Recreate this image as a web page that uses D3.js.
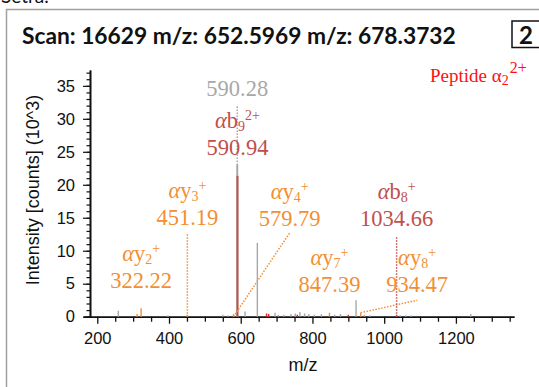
<!DOCTYPE html>
<html>
<head>
<meta charset="utf-8">
<script src="https://cdn.jsdelivr.net/npm/d3@7"></script>
<style>
  body { margin: 0; background: #fff; }
  svg { display: block; }
</style>
</head>
<body>
<script>
// ---- Centroided spectrum: m/z, intensity (x10^3 counts) and ion class of each peak
const peakMz = [258.6, 311.0, 322.22, 397.0, 451.19, 550.0, 565.0, 579.79, 590.28, 590.94,
                612.0, 646.3, 672.0, 678.0, 695.6, 705.0, 720.0, 740.0, 752.0, 757.8,
                765.0, 778.0, 790.0, 805.0, 825.0, 847.39, 862.0, 878.0, 900.0, 921.6,
                934.47, 945.0, 960.0, 1034.66, 1045.0, 1060.0, 1075.0, 1241.5];
const peakIntensity = [0.9, 0.4, 1.27, 0.2, 0.3, 0.3, 0.2, 0.4, 23.0, 21.35,
                       0.8, 11.2, 0.5, 0.4, 0.6, 0.3, 0.3, 0.4, 0.5, 0.3,
                       0.7, 0.5, 0.4, 0.3, 0.4, 0.6, 0.3, 0.4, 0.3, 2.5,
                       0.6, 0.3, 0.2, 0.3, 0.2, 0.2, 0.2, 0.4];
const peakClass = ["none", "y", "y", "none", "y", "none", "none", "y", "none", "b",
                   "none", "none", "p", "p", "none", "none", "none", "none", "none", "p",
                   "none", "none", "none", "none", "none", "y", "none", "none", "p", "none",
                   "y", "none", "none", "b", "none", "none", "none", "none"];

// ---- Assigned fragment ions of peptide α (series, index, charge, m/z)
const ionSeries = ["y", "y", "y", "b", "y", "y", "b"];
const ionIndex = ["2", "3", "4", "9", "7", "8", "8"];
const ionCharge = ["+", "+", "+", "2+", "+", "+", "+"];
const ionMz = [322.22, 451.19, 579.79, 590.94, 847.39, 934.47, 1034.66];
// annotation anchor (data units) and the ends of each dotted leader
const labelMz = [322.22, 451.19, 736.5, 590.94, 847.39, 1091.7, 1034.66];
const labelIntensity = [4.36, 13.9, 13.8, 24.5, 3.75, 3.75, 13.8];
const leaderEndMz = [null, 451.19, 736.5, null, null, 1091.7, 1034.66];
const leaderEndIntensity = [null, 12.7, 12.7, null, null, 2.5, 12.1];
const leaderStartIntensity = [null, 0, 0, null, null, 0.6, 0];

// unassigned apex label
const apexMz = 590.28, apexIntensity = 23.0, apexLabelIntensity = 33.4, apexLeaderEnd = 32.1;

// axes
const xTickValues = [200, 400, 600, 800, 1000, 1200];
const xMinorTicks = [250, 300, 350, 450, 500, 550, 650, 700, 750, 850, 900, 950,
                     1050, 1100, 1150, 1250, 1300, 1350];
const yTickValues = [0, 5, 10, 15, 20, 25, 30, 35];

const titleText = "Scan: 16629 m/z: 652.5969 m/z: 678.3732";
const panelTag = "2";

const W = 539, H = 387;
const colors = { y: "#f38f32", b: "#c0504d", none: "#a8a8a8", p: "#e8202a" };
const serif = "'Liberation Serif', 'DejaVu Serif', serif";
const sans = "'Liberation Sans', Arial, sans-serif";

const svg = d3.select("body").append("svg").attr("width", W).attr("height", H);

// panel frame and the clipped caption above it
svg.append("text").attr("x", 1).attr("y", 3)
  .attr("font-family", "Lato, 'Open Sans', sans-serif").attr("font-size", 19)
  .attr("fill", "#111").text("Setra.");
svg.append("path").attr("d", `M6.5,${H} V9.5 H${W}`)
  .attr("fill", "none").attr("stroke", "#a0a0a0").attr("stroke-width", 1.5);

// title, fitted to its width
const title = svg.append("text").attr("x", 22).attr("y", 43.5)
  .attr("font-family", "Lato, 'Open Sans', sans-serif").attr("font-weight", "bold")
  .attr("font-size", 25).attr("fill", "#111").text(titleText);
const tw = title.node().getComputedTextLength();
title.attr("font-size", 25 * 434 / tw);

svg.append("rect").attr("x", 512).attr("y", 21).attr("width", 40).attr("height", 26.5)
  .attr("fill", "none").attr("stroke", "#111").attr("stroke-width", 1.5);
svg.append("text").attr("x", 526).attr("y", 44).attr("text-anchor", "middle")
  .attr("font-family", "Lato, 'Open Sans', sans-serif").attr("font-weight", "bold")
  .attr("font-size", 24).attr("fill", "#111").text(panelTag);

// scales
const x = d3.scaleLinear().domain([161, 1362]).range([83.3, 514]);
const y = d3.scaleLinear().domain([0, 37.4]).range([316.7, 70]);

// x axis: minor then major ticks
const gx = svg.append("g").attr("transform", `translate(0,${y(0)})`);
gx.append("g").call(d3.axisBottom(x).tickValues(xMinorTicks).tickSize(5)
  .tickSizeOuter(0).tickFormat(""));
gx.append("g").call(d3.axisBottom(x).tickValues(xTickValues).tickSize(7)
  .tickSizeOuter(0).tickPadding(9).tickFormat(d3.format("d")));
gx.selectAll("path.domain").attr("stroke", "#111").attr("stroke-width", 1.6);
gx.selectAll("line").attr("stroke", "#111").attr("stroke-width", 1.3);
gx.selectAll("text").attr("font-family", sans).attr("font-size", 16.5).attr("fill", "#111");

// y axis: minor then major ticks
const gy = svg.append("g").attr("transform", `translate(${x(161) + 6.7},0)`);
gy.append("g").call(d3.axisLeft(y).tickValues(d3.range(0, 38, 1)).tickSize(3.5)
  .tickSizeOuter(0).tickFormat(""));
gy.append("g").call(d3.axisLeft(y).tickValues(yTickValues).tickSize(7)
  .tickSizeOuter(0).tickPadding(8).tickFormat(d3.format("d")));
gy.selectAll("path.domain").attr("stroke", "#111").attr("stroke-width", 1.6);
gy.selectAll("line").attr("stroke", "#111").attr("stroke-width", 1.2);
gy.selectAll("text").attr("font-family", sans).attr("font-size", 16.5).attr("fill", "#111");

// axis titles
svg.append("text").attr("transform", "translate(39,190) rotate(-90)")
  .attr("text-anchor", "middle").attr("font-family", sans).attr("font-size", 18)
  .attr("fill", "#111").text("Intensity [counts] (10^3)");
svg.append("text").attr("x", 303).attr("y", 371).attr("text-anchor", "middle")
  .attr("font-family", sans).attr("font-size", 18).attr("fill", "#111").text("m/z");

// peaks as sticks
const peaks = d3.range(peakMz.length).map(i => ({ mz: peakMz[i], v: peakIntensity[i], c: peakClass[i] }));
const order = { none: 0, p: 1, y: 2, b: 3 };
peaks.sort((a, b) => order[a.c] - order[b.c]);
svg.append("g").selectAll("line").data(peaks).join("line")
  .attr("x1", d => x(d.mz)).attr("x2", d => x(d.mz))
  .attr("y1", y(0)).attr("y2", d => y(d.v))
  .attr("stroke", d => colors[d.c])
  .attr("stroke-width", d => d.v > 15 ? 2 : 1.4);

// dotted leaders
const leaders = d3.range(ionMz.length).filter(i => leaderEndMz[i] !== null).map(i => ({
  x1: ionMz[i], y1: leaderStartIntensity[i], x2: leaderEndMz[i], y2: leaderEndIntensity[i], c: colors[ionSeries[i]]
}));
leaders.push({ x1: apexMz, y1: apexIntensity, x2: apexMz, y2: apexLeaderEnd, c: colors.none });
svg.append("g").selectAll("line").data(leaders).join("line")
  .attr("x1", d => x(d.x1)).attr("y1", d => y(d.y1))
  .attr("x2", d => x(d.x2)).attr("y2", d => y(d.y2))
  .attr("stroke", d => d.c).attr("stroke-width", 1.5).attr("stroke-dasharray", "1.5,1.5");

// ion annotations: name line above the m/z value
const lab = svg.append("g").attr("font-family", serif).attr("text-anchor", "middle");
ionMz.forEach((mz, i) => {
  const cx = x(labelMz[i]), by = y(labelIntensity[i]);
  const col = colors[ionSeries[i]];
  const t = lab.append("text").attr("x", cx).attr("y", by - 27).attr("fill", col).attr("font-size", 22.5);
  t.append("tspan").attr("font-style", "italic").text("α");
  t.append("tspan").text(ionSeries[i]);
  t.append("tspan").attr("font-size", 14).attr("dy", 3).text(ionIndex[i]);
  t.append("tspan").attr("font-size", 14).attr("dy", -11).text(ionCharge[i]);
  lab.append("text").attr("x", cx).attr("y", by).attr("fill", col).attr("font-size", 22.5)
    .text(mz.toFixed(2));
});
lab.append("text").attr("x", x(apexMz)).attr("y", y(apexLabelIntensity))
  .attr("fill", "#a8a8a8").attr("font-size", 22.5).text(apexMz.toFixed(2));

// precursor tag
const pt = svg.append("text").attr("x", 430).attr("y", 82).attr("fill", "#ff1010")
  .attr("font-family", serif).attr("font-size", 19);
pt.append("tspan").text("Peptide α");
pt.append("tspan").attr("font-size", 14).attr("dy", 3).text("2");
pt.append("tspan").attr("font-size", 16).attr("dx", 1).attr("dy", -12).text("2+");
</script>
</body>
</html>
